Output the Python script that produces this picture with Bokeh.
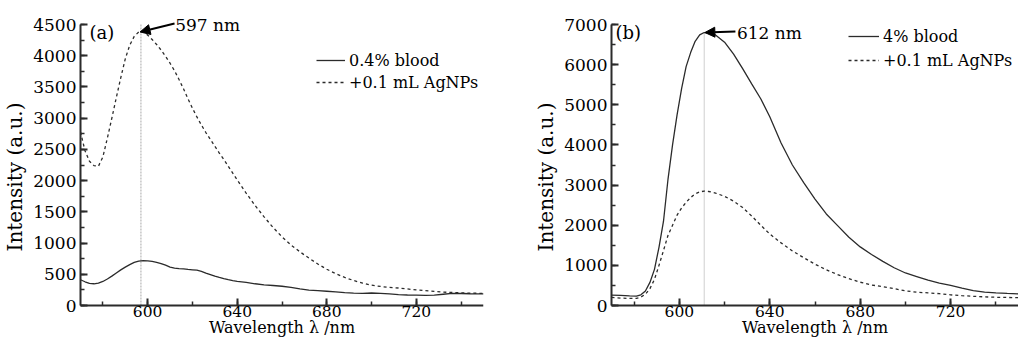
from bokeh.plotting import figure
from bokeh.models import (Range1d, SingleIntervalTicker, Legend, LegendItem,
                          Arrow, NormalHead, Label)
from bokeh.layouts import row
from bokeh.embed import file_html
from bokeh.resources import INLINE

# ---------------- data: panel (a) ----------------
wl_a = [570, 572, 574, 576, 578, 580, 582, 584, 586, 588, 590, 592, 594, 596, 597,
        598, 600, 602, 604, 606, 608, 610, 612, 614, 616, 618, 620, 622, 624, 626,
        628, 630, 632, 634, 636, 638, 640, 644, 648, 652, 656, 660, 664, 668, 672,
        676, 680, 684, 688, 692, 696, 700, 704, 708, 712, 716, 720, 724, 728, 732,
        736, 740, 744, 748, 750]
blood_a = [412, 380, 355, 348, 358, 385, 425, 470, 520, 570, 615, 655, 690, 712, 716,
           718, 715, 705, 690, 670, 645, 615, 600, 592, 585, 578, 572, 565, 548, 520,
           495, 470, 450, 432, 415, 400, 388, 370, 348, 330, 320, 308, 290, 265, 245,
           238, 228, 218, 205, 198, 195, 200, 195, 185, 175, 168, 165, 162, 165, 180,
           195, 192, 188, 185, 185]
agnp_a = [2780, 2480, 2310, 2240, 2230, 2380, 2680, 3000, 3330, 3650, 3950, 4170, 4310, 4380, 4390,
          4385, 4330, 4260, 4180, 4090, 3990, 3880, 3760, 3620, 3470, 3310, 3160, 3020, 2890, 2770,
          2660, 2550, 2440, 2340, 2230, 2120, 2010, 1800, 1600, 1420, 1250, 1100, 970, 860, 760,
          665, 580, 510, 450, 400, 360, 325, 305, 290, 280, 265, 250, 238, 225, 215,
          208, 202, 198, 195, 193]
labels_a = ["0.4% blood", "+0.1 mL AgNPs"]
peak_a = 597

# ---------------- data: panel (b) ----------------
wl_b = [570, 574, 578, 581, 583, 585, 587, 589, 591, 593, 595, 597, 599, 601, 603,
        605, 607, 609, 611, 613, 616, 620, 624, 628, 632, 636, 640, 645, 650, 655,
        660, 665, 670, 675, 680, 685, 690, 695, 700, 705, 710, 715, 720, 725, 730,
        735, 740, 745, 750]
blood_b = [260, 250, 240, 235, 265, 360, 575, 900, 1450, 2100, 3150, 4000, 4750, 5400, 5950,
           6300, 6580, 6740, 6800, 6790, 6740, 6560, 6260, 5900, 5520, 5150, 4700, 4050, 3500, 3060,
           2650, 2280, 1990, 1700, 1460, 1270, 1100, 940, 810, 720, 630, 560, 500, 430, 370,
           335, 315, 300, 290]
agnp_b = [200, 185, 175, 178, 210, 280, 420, 650, 1000, 1370, 1750, 2000, 2250, 2430, 2570,
          2690, 2780, 2830, 2850, 2840, 2800, 2720, 2600, 2440, 2230, 2000, 1780, 1560, 1360, 1190,
          1030, 890, 770, 670, 580, 510, 470, 420, 365, 330, 315, 295, 265, 245, 230,
          215, 205, 200, 195]
labels_b = ["4% blood", "+0.1 mL AgNPs"]
peak_b = 611

FONT = "DejaVu Serif"
INK = "#2b2b2b"
X0, X1 = 570, 750
FH = 323        # frame height
AX_PX = 281     # y axis length in px
BELOW = 33      # frame px below the x axis
ABOVE = 9       # frame px above the y axis top


def make_fig(frame_w, min_left, min_right, ymax, yint):
    ypx = AX_PX / ymax
    p = figure(output_backend="svg", toolbar_location=None,
               frame_width=frame_w, frame_height=FH,
               min_border_left=min_left, min_border_right=min_right,
               min_border_top=15, min_border_bottom=0,
               x_range=Range1d(X0, X1),
               y_range=Range1d(-BELOW / ypx, ymax + ABOVE / ypx),
               outline_line_color=None, background_fill_color="white")
    p.grid.visible = False
    p.xaxis.ticker = SingleIntervalTicker(interval=40, num_minor_ticks=2)
    p.yaxis.ticker = SingleIntervalTicker(interval=yint, num_minor_ticks=2)
    p.xaxis.bounds = (X0, X1)
    p.yaxis.bounds = (0, ymax)
    p.xaxis.fixed_location = 0
    for ax in (p.xaxis[0], p.yaxis[0]):
        ax.axis_line_width = 2
        ax.axis_line_color = INK
        ax.major_tick_in = 7
        ax.major_tick_out = 0
        ax.minor_tick_in = 4
        ax.minor_tick_out = 0
        ax.major_tick_line_width = 2
        ax.minor_tick_line_width = 1.5
        ax.major_tick_line_color = INK
        ax.minor_tick_line_color = INK
        ax.major_label_text_font = FONT
        ax.major_label_text_color = "black"
        ax.axis_label_text_font = FONT
        ax.axis_label_text_font_style = "normal"
        ax.axis_label_text_color = "black"
    p.yaxis.major_label_text_font_size = "17px"
    p.yaxis.major_label_standoff = 4
    p.yaxis.axis_label = "Intensity (a.u.)"
    p.yaxis.axis_label_text_font_size = "20px"
    p.yaxis.axis_label_standoff = 3
    p.xaxis.major_label_text_font_size = "15.5px"
    p.xaxis.major_label_standoff = 0
    p.xaxis.axis_label = "Wavelength λ /nm"
    p.xaxis.axis_label_text_font_size = "16px"
    p.xaxis.axis_label_standoff = -2
    return p


def add_curves(p, wl, solid, dashed, labels, loc, gw, lh):
    r1 = p.line(wl, solid, line_color=INK, line_width=1.3)
    r2 = p.line(wl, dashed, line_color=INK, line_width=1.3, line_dash="3 3")
    leg = Legend(items=[LegendItem(label=labels[0], renderers=[r1]),
                        LegendItem(label=labels[1], renderers=[r2])],
                 location=loc, padding=0, margin=0, spacing=0,
                 glyph_width=gw, glyph_height=lh, label_height=lh, label_standoff=4,
                 label_text_font=FONT, label_text_font_size="16px",
                 label_text_color="black",
                 border_line_color=None, background_fill_alpha=0)
    p.add_layout(leg)


# ---------------- panel (a) ----------------
pa = make_fig(403, 70, 39, 4500, 500)
pa.segment(x0=[peak_a], y0=[0], x1=[peak_a], y1=[4500], line_color="#a8a8a8",
           line_width=1, line_dash="2 1")
add_curves(pa, wl_a, blood_a, agnp_a, labels_a, (236, 245), 29, 22)
ya = max(agnp_a)
pa.add_layout(Arrow(end=NormalHead(size=10, line_color="black", fill_color="black", line_width=1),
                    x_start=612, y_start=ya + 125, x_end=peak_a - 0.4, y_end=ya - 10,
                    line_color="black", line_width=2))
pa.add_layout(Label(x=612.3, y=ya + 94, text=f"{peak_a} nm", text_font=FONT,
                    text_font_size="17px", text_baseline="middle", text_color="black"))
pa.add_layout(Label(x=574, y=4371, text="(a)", text_font=FONT,
                    text_font_size="18px", text_baseline="middle", text_color="black"))

# ---------------- panel (b) ----------------
pb = make_fig(407, 89, 0, 7000, 1000)
yb = max(blood_b)
pb.segment(x0=[peak_b], y0=[0], x1=[peak_b], y1=[yb], line_color="#a0a0a0",
           line_width=1, line_dash="1 1")
add_curves(pb, wl_b, blood_b, agnp_b, labels_b, (237, 266), 31, 24)
pb.add_layout(Arrow(end=NormalHead(size=10, line_color="black", fill_color="black", line_width=1),
                    x_start=624.8, y_start=yb + 25, x_end=peak_b + 0.3, y_end=yb,
                    line_color="black", line_width=2))
pb.add_layout(Label(x=625.5, y=yb, text=f"{peak_b + 1} nm", text_font=FONT,
                    text_font_size="17px", text_baseline="middle", text_color="black"))
pb.add_layout(Label(x=571.8, y=yb, text="(b)", text_font=FONT,
                    text_font_size="18px", text_baseline="middle", text_color="black"))

layout = row(pa, pb)
open("out.html", "w").write(file_html(layout, INLINE))
